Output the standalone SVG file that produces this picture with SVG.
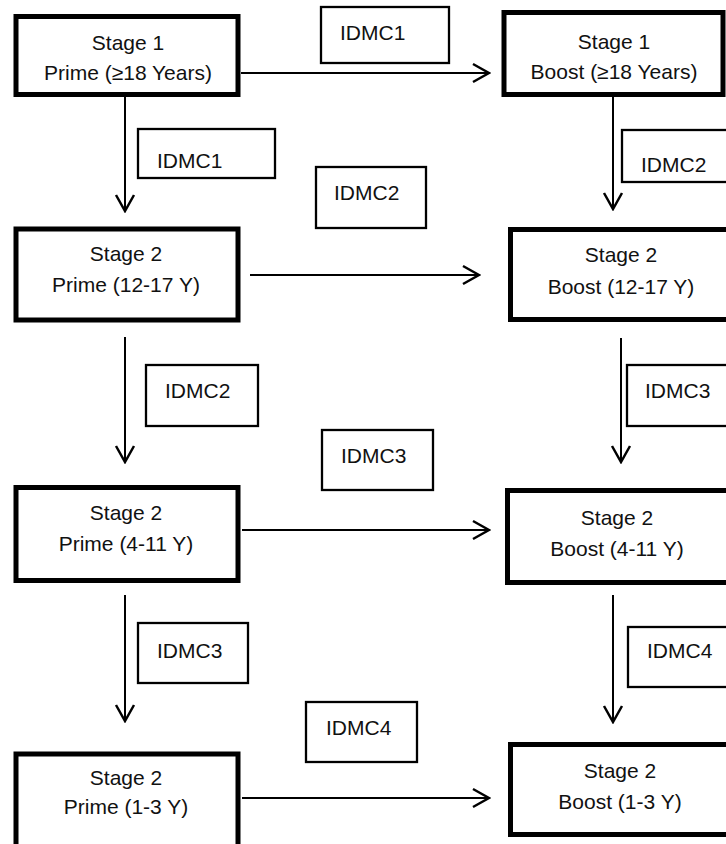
<svg xmlns="http://www.w3.org/2000/svg" width="726" height="844" viewBox="0 0 726 844">
<style>
  .node { fill: #ffffff; stroke: #000000; stroke-width: 5; }
  .lbl { fill: #ffffff; stroke: #000000; stroke-width: 2.3; }
  text { font-family: "Liberation Sans", Arial, sans-serif; font-size: 21px; fill: #111111; }
  .c { text-anchor: middle; }
  .conn { stroke: #000000; stroke-width: 2; fill: none; marker-end: url(#arr); }
</style>
<defs>
  <marker id="arr" markerUnits="userSpaceOnUse" viewBox="-18 -11 20 22" markerWidth="20" markerHeight="22" refX="0" refY="0" orient="auto">
    <path d="M-16,-9 L0,0 L-16,9" fill="none" stroke="#000000" stroke-width="2.5" stroke-linejoin="miter"/>
  </marker>
</defs>
<rect width="726" height="844" fill="#ffffff"/>

<g id="connectors">
  <line class="conn" x1="241" y1="73" x2="489" y2="73"/>
  <line class="conn" x1="250" y1="275" x2="479" y2="275"/>
  <line class="conn" x1="242" y1="530" x2="489" y2="530"/>
  <line class="conn" x1="242" y1="798" x2="489" y2="798"/>
  <line class="conn" x1="125" y1="97" x2="125" y2="211"/>
  <line class="conn" x1="125" y1="337" x2="125" y2="462"/>
  <line class="conn" x1="125" y1="595" x2="125" y2="721"/>
  <line class="conn" x1="613" y1="97" x2="613" y2="209"/>
  <line class="conn" x1="621" y1="338" x2="621" y2="462"/>
  <line class="conn" x1="613" y1="595" x2="613" y2="722"/>
</g>

<g id="prime-18">
  <rect class="node" x="16" y="16.5" width="222" height="78"/>
  <text class="c" x="128" y="50">Stage 1</text>
  <text class="c" x="128" y="80">Prime (≥18 Years)</text>
</g>
<g id="boost-18">
  <rect class="node" x="504" y="12.5" width="219" height="82"/>
  <text class="c" x="614" y="49">Stage 1</text>
  <text class="c" x="614" y="79">Boost (≥18 Years)</text>
</g>
<g id="prime-12-17">
  <rect class="node" x="16" y="229" width="222" height="91"/>
  <text class="c" x="126" y="261">Stage 2</text>
  <text class="c" x="126" y="292">Prime (12-17 Y)</text>
</g>
<g id="boost-12-17">
  <rect class="node" x="510.5" y="229.5" width="240" height="90"/>
  <text class="c" x="621" y="262">Stage 2</text>
  <text class="c" x="621" y="294">Boost (12-17 Y)</text>
</g>
<g id="prime-4-11">
  <rect class="node" x="16" y="487.5" width="222" height="93"/>
  <text class="c" x="126" y="520">Stage 2</text>
  <text class="c" x="126" y="551">Prime (4-11 Y)</text>
</g>
<g id="boost-4-11">
  <rect class="node" x="507.5" y="490.5" width="240" height="92"/>
  <text class="c" x="617" y="525">Stage 2</text>
  <text class="c" x="617" y="556">Boost (4-11 Y)</text>
</g>
<g id="prime-1-3">
  <rect class="node" x="16" y="754" width="222" height="100"/>
  <text class="c" x="126" y="785">Stage 2</text>
  <text class="c" x="126" y="814">Prime (1-3 Y)</text>
</g>
<g id="boost-1-3">
  <rect class="node" x="510.5" y="744.5" width="240" height="90"/>
  <text class="c" x="620" y="778">Stage 2</text>
  <text class="c" x="620" y="809">Boost (1-3 Y)</text>
</g>

<g id="label-idmc1-top">
  <rect class="lbl" x="321" y="7" width="128" height="56"/>
  <text x="340" y="40">IDMC1</text>
</g>
<g id="label-idmc1-left">
  <rect class="lbl" x="138" y="129" width="137" height="49"/>
  <text x="157" y="168">IDMC1</text>
</g>
<g id="label-idmc2-right">
  <rect class="lbl" x="622" y="130" width="140" height="52"/>
  <text x="641" y="172">IDMC2</text>
</g>
<g id="label-idmc2-mid">
  <rect class="lbl" x="316" y="167" width="110" height="61"/>
  <text x="334" y="200">IDMC2</text>
</g>
<g id="label-idmc2-left">
  <rect class="lbl" x="146" y="365" width="112" height="61"/>
  <text x="165" y="398">IDMC2</text>
</g>
<g id="label-idmc3-right">
  <rect class="lbl" x="627" y="365" width="140" height="61"/>
  <text x="645" y="398">IDMC3</text>
</g>
<g id="label-idmc3-mid">
  <rect class="lbl" x="322" y="430" width="111" height="60"/>
  <text x="341" y="463">IDMC3</text>
</g>
<g id="label-idmc3-left">
  <rect class="lbl" x="138" y="623" width="110" height="60"/>
  <text x="157" y="658">IDMC3</text>
</g>
<g id="label-idmc4-right">
  <rect class="lbl" x="628" y="627" width="140" height="60"/>
  <text x="647" y="658">IDMC4</text>
</g>
<g id="label-idmc4-mid">
  <rect class="lbl" x="306" y="702" width="111" height="60"/>
  <text x="326" y="735">IDMC4</text>
</g>
</svg>
